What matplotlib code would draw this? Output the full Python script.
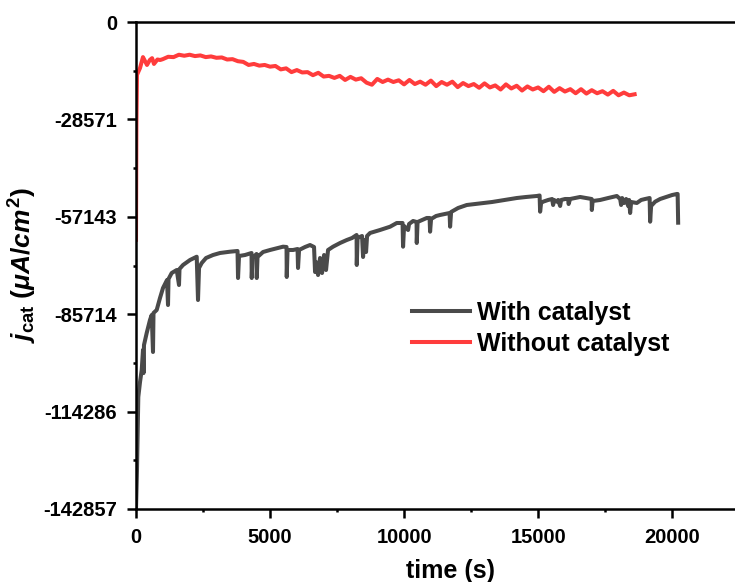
import matplotlib
matplotlib.use("Agg")
import matplotlib.pyplot as plt
from matplotlib.ticker import MultipleLocator, FixedLocator

plt.rcParams['font.family'] = ['Liberation Sans', 'DejaVu Sans']
plt.rcParams['font.weight'] = 'bold'
plt.rcParams['mathtext.fontset'] = 'custom'
plt.rcParams['mathtext.rm'] = 'Liberation Sans:bold'
plt.rcParams['mathtext.bf'] = 'Liberation Sans:bold'
plt.rcParams['mathtext.it'] = 'Liberation Sans:italic:bold'

# ---- data ----
t_with = [0, 37, 86, 150, 213, 261, 280, 298, 400, 522, 586, 634, 653, 772, 895,
          1007, 1157, 1194, 1213, 1332, 1519, 1604, 1623, 1754, 2015, 2265, 2313,
          2351, 2451, 2612, 2873, 3134, 3507, 3787, 3806, 3843, 4067, 4309, 4317,
          4347, 4496, 4504, 4533, 4739, 5000, 5298, 5485, 5615, 5623, 5653, 5858,
          6026, 6044, 6082, 6306, 6492, 6641, 6679, 6716, 6791, 6865, 6940, 7015,
          7089, 7164, 7350, 7612, 7862, 8060, 8228, 8235, 8265, 8432, 8470, 8507,
          8582, 8619, 8731, 9104, 9477, 9727, 9943, 9962, 10000, 10149, 10186,
          10336, 10466, 10473, 10503, 10671, 10846, 10951, 10970, 11007, 11194,
          11343, 11530, 11698, 11716, 11754, 12015, 12339, 12649, 12948, 13283,
          13582, 13880, 14205, 14552, 14951, 15055, 15074, 15111, 15186, 15373,
          15522, 15559, 15597, 15697, 15746, 15821, 15858, 16007, 16119, 16138,
          16193, 16380, 16567, 16791, 16996, 17003, 17033, 17313, 17612, 17935,
          18059, 18096, 18134, 18208, 18283, 18358, 18395, 18432, 18470, 18682,
          18842, 18991, 19159, 19178, 19215, 19365, 19551, 19801, 19999, 20174,
          20204, 20223]
j_with = [-142857, -131400, -110000, -105600, -102100, -96200, -103000, -94750,
          -91200, -87400, -85950, -96800, -85360, -84480, -80960, -78030, -75680,
          -83020, -75390, -73630, -72750, -77150, -72450, -71280, -69810, -68850,
          -81550, -72160, -70700, -69230, -68350, -67760, -67380, -67170, -75100,
          -68640, -68350, -67760, -75100, -69230, -68050, -75100, -68930, -67470,
          -66880, -66290, -65910, -66000, -74800, -66880, -66880, -66590, -72160,
          -66880, -66000, -65420, -66000, -73340, -70400, -74220, -69230, -73630,
          -68350, -72750, -66880, -65910, -64830, -63950, -63360, -62480, -71280,
          -63360, -62770, -68930, -63950, -67470, -62770, -61890, -61010, -60050,
          -58960, -58960, -65910, -59840, -61010, -59250, -58370, -58660, -64830,
          -58670, -58080, -57490, -57490, -61510, -57790, -56910, -56610, -56320,
          -56030, -60050, -55730, -54560, -53680, -53390, -53090, -52800, -52420,
          -52070, -51630, -51330, -51040, -50890, -55650, -53090, -52710, -52210,
          -51920, -53680, -52210, -52710, -52210, -53970, -52210, -51920, -51920,
          -53390, -51920, -51630, -51330, -51630, -51920, -55150, -52510, -52210,
          -51630, -51040, -51920, -53680, -51630, -53090, -51920, -53970, -52210,
          -56030, -52800, -53090, -52210, -51920, -51630, -58580, -53970, -52710,
          -51920, -51250, -50750, -50450, -50450, -58870]

t_without = [0, 15, 37, 150, 260, 410, 520, 600, 670, 800, 900,
             1000, 1200, 1400, 1600, 1800, 2000, 2200, 2400, 2600, 2800,
             3000, 3200, 3400, 3600, 3800, 4000, 4200, 4400, 4600, 4800,
             5000, 5200, 5400, 5600, 5800, 6000, 6200, 6400, 6600, 6800,
             7000, 7200, 7400, 7600, 7800, 8000, 8200, 8400, 8600, 8800,
             9000, 9200, 9400, 9600, 9800, 10000, 10200, 10400, 10600, 10800,
             11000, 11200, 11400, 11600, 11800, 12000, 12200, 12400, 12600, 12800,
             13000, 13200, 13400, 13600, 13800, 14000, 14200, 14400, 14600, 14800,
             15000, 15200, 15400, 15600, 15800, 16000, 16200, 16400, 16600, 16800,
             17000, 17200, 17400, 17600, 17800, 18000, 18200, 18400, 18600]
j_without = [-63900, -30000, -15500, -13500, -10300, -12600, -11100, -10600, -12300, -11000, -11150,
             -10900, -10200, -10300, -9600, -9900, -9600, -10000, -9800, -10300, -10100,
             -10500, -10400, -11000, -10900, -11500, -11700, -12600, -12300, -12800, -12600,
             -13100, -12900, -13900, -13600, -14700, -14100, -14800, -14700, -15600, -14900,
             -16000, -15800, -16400, -15800, -17000, -16100, -16900, -16500, -17800, -18400,
             -16700, -17600, -16900, -17600, -17100, -18300, -17000, -18200, -17500, -18400,
             -17200, -18800, -17600, -18400, -17500, -19100, -17900, -18800, -18200, -19300,
             -18000, -19200, -18600, -19800, -18300, -19500, -18700, -20100, -18900, -19800,
             -19200, -20300, -19000, -20500, -19400, -20400, -19700, -20900, -19700, -21000,
             -20000, -20900, -20300, -21300, -20200, -21500, -20700, -21500, -21200]

ytick_vals = [-142857, -114286, -85714, -57143, -28571, 0]
ytick_labels = ['-142857', '-114286', '-85714', '-57143', '-28571', '0']
xtick_vals = [0, 5000, 10000, 15000, 20000]
series_labels = ['With catalyst', 'Without catalyst']

fig = plt.figure(figsize=(7.35, 5.82), dpi=100)
ax = fig.add_axes([136/735, 1-509/582, (766-136)/735, (509-22)/582])

ax.plot(t_with, j_with, color='#4a4a4a', lw=2.9, label=series_labels[0], solid_joinstyle='round')
ax.plot(t_without, j_without, color='#ff3c3c', lw=2.9, label=series_labels[1], solid_joinstyle='round')

ax.set_xlim(0, 23500)
ax.set_ylim(-142857, 0)
ax.set_yticks(ytick_vals)
ax.set_yticklabels(ytick_labels)
ax.yaxis.set_minor_locator(FixedLocator([(a + b) / 2 for a, b in zip(ytick_vals[:-1], ytick_vals[1:])]))
ax.set_xticks(xtick_vals)
ax.xaxis.set_minor_locator(MultipleLocator(2500))

for s in ['left', 'bottom', 'top']:
    ax.spines[s].set_linewidth(1.8)
ax.spines['right'].set_visible(False)
ax.tick_params(which='major', direction='out', length=6.5, width=1.8, labelsize=14.5, pad=7)
ax.tick_params(which='minor', direction='out', length=2.5, width=1.8)
ax.tick_params(top=False, right=False, which='both')
for lab in ax.get_xticklabels() + ax.get_yticklabels():
    lab.set_fontweight('bold')

ax.set_xlabel('time (s)', fontsize=18, fontweight='bold', labelpad=9)
ax.set_ylabel(r'$j_{\mathrm{cat}}$ $(\mu A/cm^{2})$', fontsize=19, labelpad=3)

leg = ax.legend(loc='upper left', bbox_to_anchor=((412-136)/630, 0.427), frameon=False,
                prop={'weight': 'bold', 'size': 18}, handlelength=2.32,
                handletextpad=0.28, labelspacing=0.28, borderpad=0, borderaxespad=0)

fig.savefig('out.png', dpi=100)
